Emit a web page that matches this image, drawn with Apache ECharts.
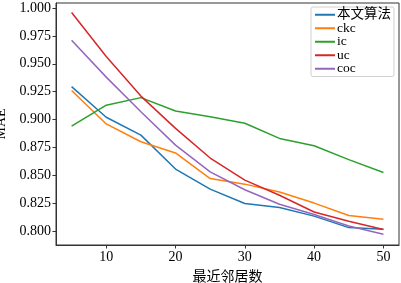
<!DOCTYPE html>
<html lang="zh">
<head>
    <meta charset="UTF-8">
    <title>MAE</title>
    <script src="https://cdn.jsdelivr.net/npm/echarts@6/dist/echarts.min.js"></script>
    <style>
        html, body { margin: 0; padding: 0; background: #fff; }
        #main { width: 401px; height: 283px; }
    </style>
</head>
<body>
<div id="main"></div>
<script>
    // 最近邻居数
    var kValues = [5, 10, 15, 20, 25, 30, 35, 40, 45, 50];
    var names = ['本文算法', 'ckc', 'ic', 'uc', 'coc'];
    var colors = ['#1f77b4', '#ff7f0e', '#2ca02c', '#d62728', '#9467bd'];
    var ours = [0.9295, 0.902, 0.886, 0.8555, 0.8375, 0.8246, 0.821, 0.8133, 0.803, 0.8015];
    var ckc = [0.926, 0.896, 0.880, 0.870, 0.847, 0.842, 0.835, 0.825, 0.8138, 0.8105];
    var ic = [0.894, 0.9128, 0.9196, 0.9076, 0.9025, 0.8966, 0.883, 0.8765, 0.864, 0.8525];
    var uc = [0.996, 0.9565, 0.921, 0.892, 0.8654, 0.8456, 0.832, 0.817, 0.8087, 0.8013];
    var coc = [0.971, 0.938, 0.907, 0.877, 0.853, 0.837, 0.824, 0.8147, 0.8045, 0.797];
    var xTicks = [10, 20, 30, 40, 50];
    var yTicks = [0.800, 0.825, 0.850, 0.875, 0.900, 0.925, 0.950, 0.975, 1.000];

    var allData = [ours, ckc, ic, uc, coc];
    var font = '"Liberation Serif", "Noto Sans CJK SC", serif';

    var series = [];
    for (var i = 0; i < names.length; i++) {
        var pts = [];
        for (var j = 0; j < kValues.length; j++) {
            pts.push([kValues[j], allData[i][j]]);
        }
        series.push({
            name: names[i],
            type: 'line',
            data: pts,
            symbol: 'none',
            lineStyle: { width: 1.5, color: colors[i] },
            itemStyle: { color: colors[i] }
        });
    }

    var myChart = echarts.init(document.getElementById('main'));
    var option = {
        animation: false,
        textStyle: { fontFamily: font },
        grid: {
            left: 56, right: 2, top: 3, bottom: 38,
            outerBoundsMode: 'none',
            containLabel: false,
            show: true, borderColor: '#333', borderWidth: 1, backgroundColor: '#fff'
        },
        legend: {
            left: 311, top: 7,
            orient: 'vertical',
            itemWidth: 20, itemHeight: 2,
            itemGap: 0,
            icon: 'rect',
            padding: [1, 3, 1, 4],
            borderColor: '#d0d0d0', borderWidth: 1, borderRadius: 2,
            backgroundColor: '#fff',
            textStyle: {
                fontFamily: font, fontSize: 13.5, color: '#000',
                lineHeight: 12.6, padding: [0, 0, 0, -3]
            },
            data: names
        },
        xAxis: {
            type: 'value',
            min: 2.75, max: 52.25,
            name: '最近邻居数',
            nameLocation: 'middle',
            nameGap: 25,
            nameTextStyle: { fontFamily: font, fontSize: 14, color: '#000' },
            splitLine: { show: false },
            axisLine: { show: true, lineStyle: { color: '#333' } },
            axisTick: { show: true, length: 3.5, customValues: xTicks, lineStyle: { color: '#333' } },
            axisLabel: { customValues: xTicks, fontFamily: font, fontSize: 14, color: '#000', margin: 5 }
        },
        yAxis: {
            type: 'value',
            min: 0.7874, max: 1.0045,
            name: 'MAE',
            nameLocation: 'middle',
            nameGap: 47,
            nameTextStyle: { fontFamily: font, fontSize: 14, color: '#000' },
            splitLine: { show: false },
            axisLine: { show: true, lineStyle: { color: '#333' } },
            axisTick: { show: true, length: 3.5, customValues: yTicks, lineStyle: { color: '#333' } },
            axisLabel: {
                customValues: yTicks, fontFamily: font, fontSize: 14, color: '#000', margin: 5,
                formatter: function (v) { return v.toFixed(3); }
            }
        },
        series: series
    };
    myChart.setOption(option);
</script>
</body>
</html>
